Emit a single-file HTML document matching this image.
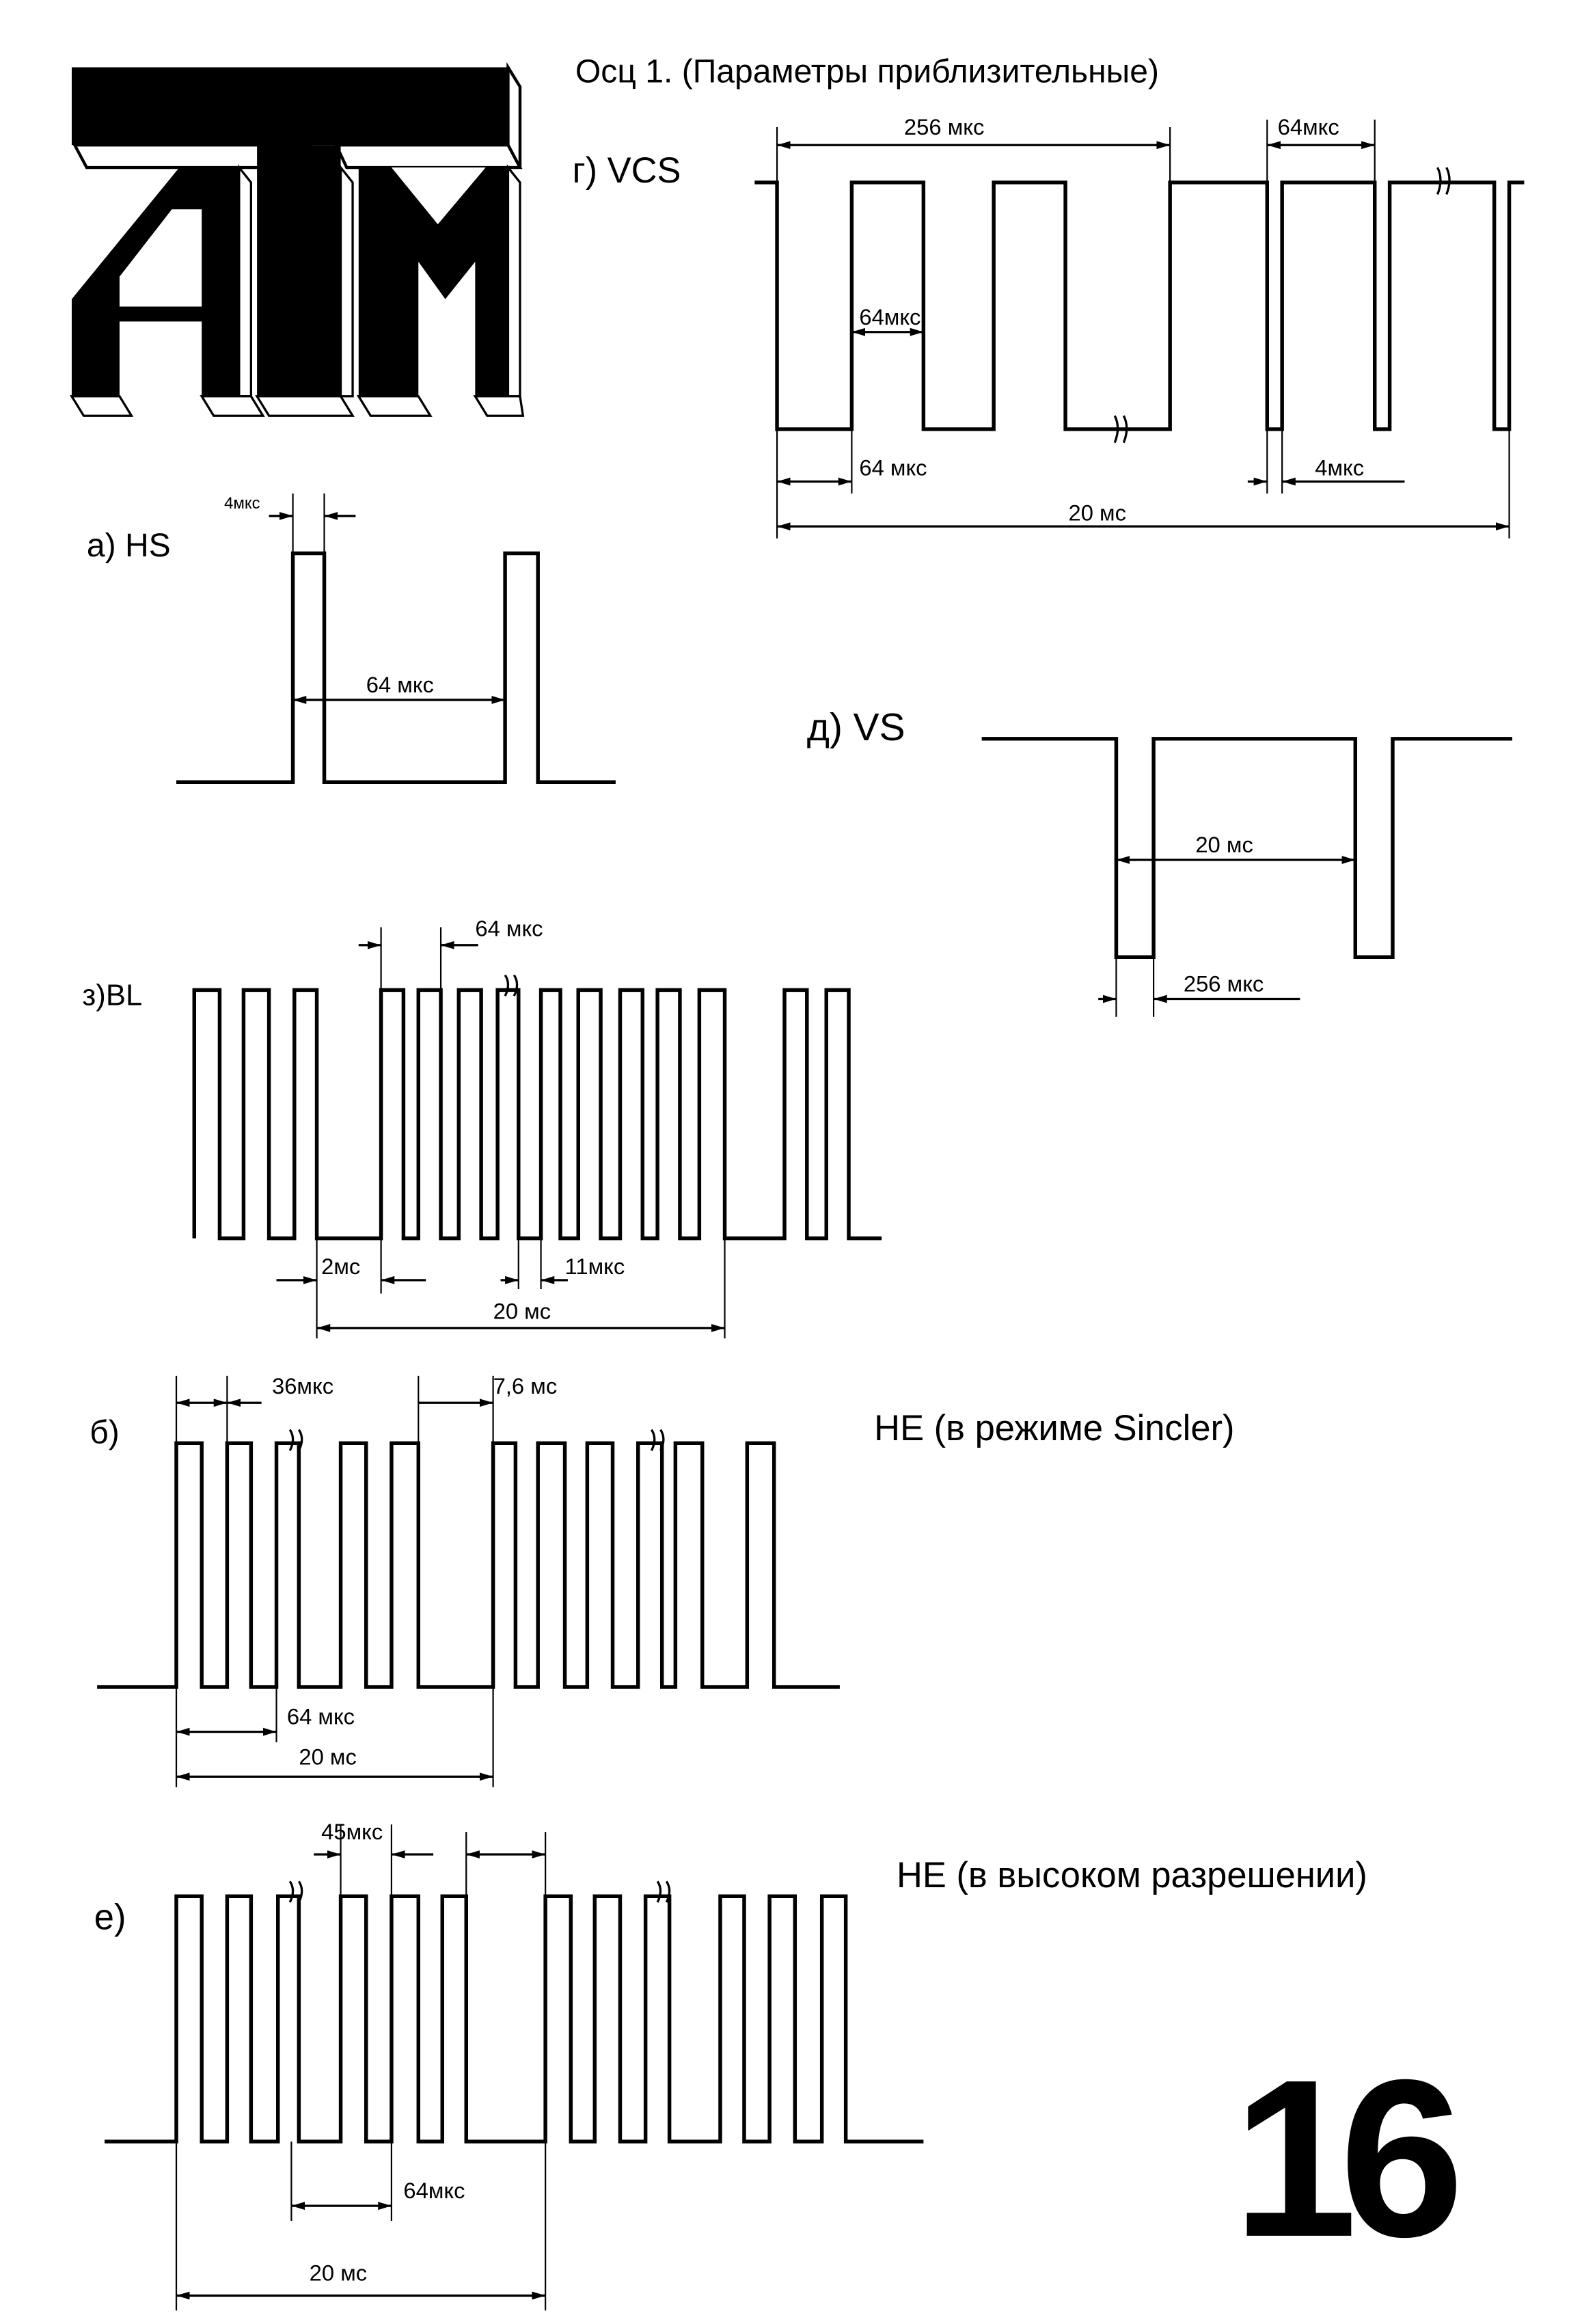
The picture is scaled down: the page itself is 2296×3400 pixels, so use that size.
<!DOCTYPE html>
<html><head><meta charset="utf-8"><style>
html,body{margin:0;padding:0;background:#fff;}
svg{display:block;}
text{font-family:"Liberation Sans","DejaVu Sans",sans-serif;fill:#000;}
</style></head><body>
<svg width="2296" height="3400" viewBox="0 0 1050 1554" preserveAspectRatio="none" xmlns="http://www.w3.org/2000/svg">
<defs>
<marker id="a" viewBox="0 0 10 10" refX="10" refY="5" markerWidth="6" markerHeight="6" orient="auto-start-reverse"><path d="M0 2 L10 5 L0 8z" fill="#000"/></marker>
</defs>
<rect width="1050" height="1554" fill="#fff"/>
<!-- ATM logo -->
<g>
<rect x="48" y="45" width="292" height="52" fill="#000"/>
<polygon points="340,45 348,58 348,112 340,97" fill="#fff" stroke="#000" stroke-width="2"/>
<polygon points="50,97 208,97 208,112 58,112" fill="#fff" stroke="#000" stroke-width="2"/>
<polygon points="225,97 340,97 348,112 232,112" fill="#fff" stroke="#000" stroke-width="2"/>
<polygon points="48,265 48,200 120,112 160,112 160,265 135,265 135,215 80,215 80,265" fill="#000"/>
<polygon points="80,205 80,185 115,140 135,140 135,205" fill="#fff"/>
<polygon points="160,112 168,122 168,265 160,265" fill="#fff" stroke="#000" stroke-width="1.5"/>
<rect x="172" y="97" width="56" height="168" fill="#000"/>
<polygon points="228,112 236,122 236,265 228,265" fill="#fff" stroke="#000" stroke-width="1.5"/>
<polygon points="240,112 340,112 340,265 318,265 318,175 298,200 280,175 280,265 240,265" fill="#000"/>
<polygon points="262,112 325,112 293,150" fill="#fff"/>
<polygon points="340,112 348,122 348,265 340,265" fill="#fff" stroke="#000" stroke-width="1.5"/>
<g fill="#fff" stroke="#000" stroke-width="1.5">
<polygon points="48,265 80,265 88,278 56,278"/>
<polygon points="135,265 168,265 176,278 143,278"/>
<polygon points="172,265 228,265 236,278 180,278"/>
<polygon points="240,265 280,265 288,278 248,278"/>
<polygon points="318,265 348,265 350,278 326,278"/>
</g>
</g>

<text x="385" y="55" font-size="22">Осц 1. (Параметры приблизительные)</text>
<text x="383" y="122" font-size="24">г) VCS</text>
<text x="58" y="372" font-size="22">а) HS</text>
<text x="540" y="495" font-size="26">д) VS</text>
<text x="55" y="672" font-size="20">з)BL</text>
<text x="60" y="965" font-size="22">б)</text>
<text x="63" y="1290" font-size="24">е)</text>
<text x="585" y="963" font-size="24">HE (в режиме Sincler)</text>
<text x="600" y="1262" font-size="24">HE (в высоком разрешении)</text>
<text x="825" y="1495" font-size="150" font-weight="bold" letter-spacing="-12">16</text>

<g fill="none" stroke="#000" stroke-width="2.5">
<path d="M505 122 H520 V287 H570 V122 H618 V287 H665 V122 H713 V287 H783 V122 H848 V287 H858 V122 H920 V287 H930 V122 H1000 V287 H1010 V122 H1020"/>
<path d="M118 523 H196 V370 H217 V523 H338 V370 H360 V523 H412"/>
<path d="M657 494 H747 V640 H772 V494 H907 V640 H932 V494 H1012"/>
<path d="M130 828 V662 H147 V828 H163 V662 H180 V828 H197 V662 H212 V828 H255 V662 H270 V828 H280 V662 H295 V828 H307 V662 H322 V828 H333 V662 H347 V828 H362 V662 H375 V828 H387 V662 H402 V828 H415 V662 H430 V828 H440 V662 H455 V828 H468 V662 H485 V828 H525 V662 H540 V828 H553 V662 H568 V828 H590"/>
<path d="M65 1128 H118 V965 H135 V1128 H152 V965 H168 V1128 H185 V965 H200 V1128 H228 V965 H245 V1128 H262 V965 H280 V1128 H330 V965 H345 V1128 H360 V965 H378 V1128 H393 V965 H410 V1128 H427 V965 H443 V1128 H452 V965 H470 V1128 H500 V965 H518 V1128 H562"/>
<path d="M70 1432 H118 V1268 H135 V1432 H152 V1268 H168 V1432 H186 V1268 H200 V1432 H228 V1268 H245 V1432 H262 V1268 H280 V1432 H296 V1268 H312 V1432 H365 V1268 H382 V1432 H398 V1268 H415 V1432 H432 V1268 H448 V1432 H482 V1268 H498 V1432 H515 V1268 H532 V1432 H550 V1268 H566 V1432 H618"/>
</g>

<g fill="none" stroke="#000" stroke-width="1.5">
<path d="M746 278 q4 8 0 18 M752 278 q4 8 0 18"/>
<path d="M962 112 q4 8 0 18 M968 112 q4 8 0 18"/>
<path d="M338 652 q4 6 0 14 M344 652 q4 6 0 14"/>
<path d="M194 956 q4 6 0 14 M200 956 q4 6 0 14"/>
<path d="M436 956 q4 6 0 14 M442 956 q4 6 0 14"/>
<path d="M194 1258 q4 6 0 14 M200 1258 q4 6 0 14"/>
<path d="M440 1258 q4 6 0 14 M446 1258 q4 6 0 14"/>
</g>

<g stroke="#000" stroke-width="1">
<path d="M520 85 V122 M783 85 V122 M848 80 V122 M920 80 V122"/>
<path d="M520 287 V360 M570 287 V330 M848 287 V330 M858 287 V330 M1010 287 V360"/>
<path d="M196 330 V370 M217 330 V370"/>
<path d="M747 640 V680 M772 640 V680"/>
<path d="M255 620 V662 M295 620 V662 M212 828 V895 M255 828 V865 M485 828 V895 M347 828 V862 M362 828 V862"/>
<path d="M118 920 V965 M152 920 V965 M280 920 V965 M330 920 V965 M118 1128 V1195 M185 1128 V1165 M330 1128 V1195"/>
<path d="M228 1220 V1268 M262 1220 V1268 M312 1225 V1268 M365 1225 V1268 M118 1432 V1545 M195 1432 V1485 M262 1432 V1485 M365 1432 V1545"/>
</g>

<g stroke="#000" stroke-width="1.5" fill="none" marker-start="url(#a)" marker-end="url(#a)">
<line x1="520" y1="97" x2="783" y2="97"/>
<line x1="848" y1="97" x2="920" y2="97"/>
<line x1="570" y1="222" x2="618" y2="222"/>
<line x1="520" y1="322" x2="570" y2="322"/>
<line x1="520" y1="352" x2="1010" y2="352"/>
<line x1="196" y1="468" x2="338" y2="468"/>
<line x1="747" y1="575" x2="907" y2="575"/>
<line x1="212" y1="888" x2="485" y2="888"/>
<line x1="118" y1="1188" x2="330" y2="1188"/>
<line x1="118" y1="1535" x2="365" y2="1535"/>
<line x1="118" y1="938" x2="152" y2="938"/>
<line x1="195" y1="1475" x2="262" y2="1475"/>
<line x1="118" y1="1158" x2="185" y2="1158"/>
<line x1="312" y1="1240" x2="365" y2="1240"/>
</g>
<g stroke="#000" stroke-width="1.5" fill="none" marker-end="url(#a)">
<path d="M835 322 H848"/><path d="M940 322 H858"/>
<path d="M180 345 H196"/><path d="M238 345 H217"/>
<path d="M735 668 H747"/><path d="M870 668 H772"/>
<path d="M240 632 H255"/><path d="M320 632 H295"/>
<path d="M185 856 H212"/><path d="M285 856 H255"/>
<path d="M335 856 H347"/><path d="M380 856 H362"/>
<path d="M175 938 H152"/><path d="M280 938 H330"/>
<path d="M210 1240 H228"/><path d="M290 1240 H262"/>
</g>

<g font-size="15">
<text x="605" y="90">256 мкс</text>
<text x="855" y="90">64мкс</text>
<text x="575" y="217">64мкс</text>
<text x="575" y="318">64 мкс</text>
<text x="880" y="318">4мкс</text>
<text x="715" y="348">20 мс</text>
<text x="150" y="340" font-size="11">4мкс</text>
<text x="245" y="463">64 мкс</text>
<text x="800" y="570">20 мс</text>
<text x="792" y="663">256 мкс</text>
<text x="318" y="626">64 мкс</text>
<text x="215" y="852">2мс</text>
<text x="378" y="852">11мкс</text>
<text x="330" y="882">20 мс</text>
<text x="182" y="932">36мкс</text>
<text x="330" y="932">7,6 мс</text>
<text x="192" y="1153">64 мкс</text>
<text x="200" y="1180">20 мс</text>
<text x="215" y="1230">45мкс</text>
<text x="270" y="1470">64мкс</text>
<text x="207" y="1525">20 мс</text>
</g>
</svg>
</body></html>
